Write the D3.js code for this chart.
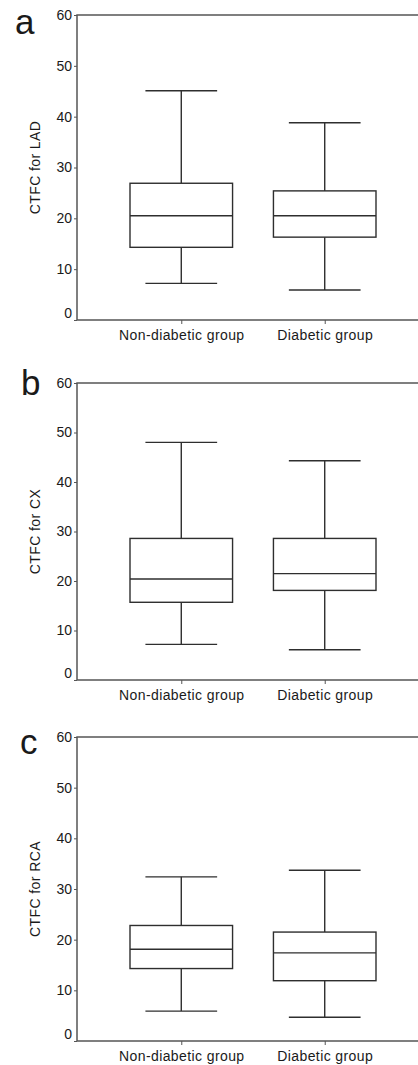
<!DOCTYPE html>
<html>
<head>
<meta charset="utf-8">
<script src="https://cdn.jsdelivr.net/npm/d3@7"></script>
<style>
body { margin: 0; background: #fff; overflow: hidden; }
svg { display: block; }
text { font-family: "Liberation Sans", Arial, sans-serif; fill: #1a1a1a; }
</style>
</head>
<body>
<svg id="chart" width="418" height="1065"></svg>
<script>
// data: [min, q1, median, q3, max]
let categories = ["Non-diabetic group", "Diabetic group"];
let panelLetters = ["a", "b", "c"];
let yTitles = ["CTFC for LAD", "CTFC for CX", "CTFC for RCA"];
let yTicks = [0, 10, 20, 30, 40, 50, 60];

let ladNonDiabetic = [7.2, 14.3, 20.5, 26.9, 45.1];
let ladDiabetic = [5.9, 16.3, 20.5, 25.4, 38.8];
let cxNonDiabetic = [7.2, 15.7, 20.4, 28.6, 48.0];
let cxDiabetic = [6.1, 18.1, 21.5, 28.6, 44.3];
let rcaNonDiabetic = [5.9, 14.3, 18.1, 22.8, 32.4];
let rcaDiabetic = [4.7, 11.9, 17.4, 21.5, 33.7];

let panelData = [
    [ladNonDiabetic, ladDiabetic],
    [cxNonDiabetic, cxDiabetic],
    [rcaNonDiabetic, rcaDiabetic]
];

// layout
let svg = d3.select("#chart");
let lineColor = "#2e2e2e";
let axisColor = "#555555";
let plotLeft = 77;
let plotRight = 429;
let panelTop = [15, 383, 737];
let panelBottom = [320, 680, 1041];
let letterX = [15, 21, 20];
let letterY = [34, 395, 754];

let x = d3.scalePoint()
    .domain(categories)
    .range([plotLeft, plotRight])
    .padding(0.727);
let boxWidth = x.step() * 0.715;
let capWidth = x.step() * 0.5;

function drawPanel(i)
{
    let y = d3.scaleLinear().domain([0, 60]).range([panelBottom[i], panelTop[i]]);
    let g = svg.append("g");

    // frame: left, top, bottom (right side runs off the picture)
    g.append("path")
        .attr("d", "M" + (plotRight + 20) + "," + panelTop[i] + "H" + plotLeft + "V" + panelBottom[i] + "H" + (plotRight + 20))
        .attr("fill", "none")
        .attr("stroke", axisColor)
        .attr("stroke-width", 1.5);

    let yAxis = g.append("g")
        .attr("transform", "translate(" + plotLeft + ",0)")
        .call(d3.axisLeft(y).tickValues(yTicks).tickSize(3).tickPadding(2));
    yAxis.select(".domain").remove();
    yAxis.selectAll(".tick line").attr("stroke", axisColor);
    yAxis.selectAll(".tick text")
        .attr("font-size", 14)
        .attr("font-family", "Liberation Sans, Arial, sans-serif")
        .attr("fill", "#1a1a1a")
        .attr("dy", d => d == 0 ? "-0.2em" : "0.32em");

    let xAxis = g.append("g")
        .attr("transform", "translate(0," + panelBottom[i] + ")")
        .call(d3.axisBottom(x).tickSize(4).tickPadding(6));
    xAxis.select(".domain").remove();
    xAxis.selectAll(".tick line").attr("stroke", axisColor);
    xAxis.selectAll(".tick text")
        .attr("font-size", 14)
        .attr("letter-spacing", "0.4px")
        .attr("font-family", "Liberation Sans, Arial, sans-serif")
        .attr("fill", "#1a1a1a");

    g.append("text")
        .attr("transform", "translate(40," + (panelTop[i] + panelBottom[i]) / 2 + ") rotate(-90)")
        .attr("text-anchor", "middle")
        .attr("font-size", 14)
        .attr("letter-spacing", "0.4px")
        .text(yTitles[i]);

    g.append("text")
        .attr("x", letterX[i])
        .attr("y", letterY[i])
        .attr("font-size", 35)
        .text(panelLetters[i]);

    panelData[i].forEach(function(s, j)
    {
        let cx = x(categories[j]);
        let box = g.append("g")
            .attr("stroke", lineColor)
            .attr("stroke-width", 1.4)
            .attr("fill", "none");
        // whiskers
        box.append("line").attr("x1", cx).attr("x2", cx).attr("y1", y(s[0])).attr("y2", y(s[1]));
        box.append("line").attr("x1", cx).attr("x2", cx).attr("y1", y(s[3])).attr("y2", y(s[4]));
        box.append("line").attr("x1", cx - capWidth / 2).attr("x2", cx + capWidth / 2).attr("y1", y(s[0])).attr("y2", y(s[0]));
        box.append("line").attr("x1", cx - capWidth / 2).attr("x2", cx + capWidth / 2).attr("y1", y(s[4])).attr("y2", y(s[4]));
        // box + median
        box.append("rect")
            .attr("x", cx - boxWidth / 2)
            .attr("y", y(s[3]))
            .attr("width", boxWidth)
            .attr("height", y(s[1]) - y(s[3]))
            .attr("fill", "#fff");
        box.append("line").attr("x1", cx - boxWidth / 2).attr("x2", cx + boxWidth / 2).attr("y1", y(s[2])).attr("y2", y(s[2]));
    });
}

for (let i = 0; i < 3; i++) drawPanel(i);
</script>
</body>
</html>
